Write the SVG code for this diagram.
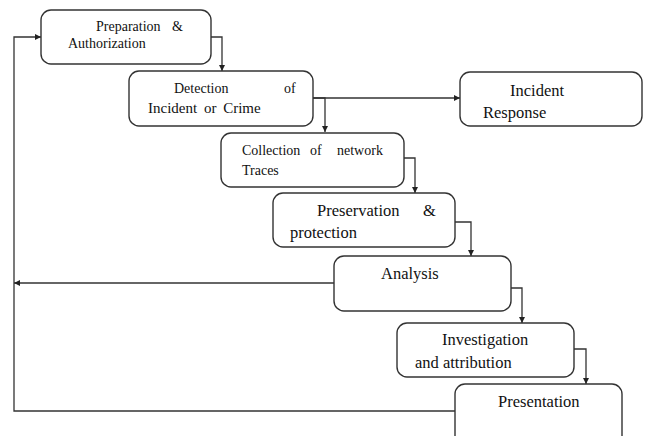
<svg xmlns="http://www.w3.org/2000/svg" width="649" height="436" viewBox="0 0 649 436">
<defs>
<marker id="ah" viewBox="0 0 10 10" refX="10" refY="5" markerWidth="6" markerHeight="6" orient="auto" markerUnits="userSpaceOnUse"><path d="M0,0 L10,5 L0,10 z" fill="#222"/></marker>
<style>
.box{fill:#fff;stroke:#333;stroke-width:1.4}
.c{fill:none;stroke:#333;stroke-width:1.3}
text{font-family:'Liberation Serif','DejaVu Serif',serif;fill:#111}
.s{font-size:14px}
.m{font-size:16.5px}
</style>
</defs>
<rect width="649" height="436" fill="#fff"/>
<g id="connectors">
<path class="c" d="M211,37 H222 V71" marker-end="url(#ah)"/>
<path class="c" d="M313,98 H460" marker-end="url(#ah)"/>
<path class="c" d="M313,98 H325 V132" marker-end="url(#ah)"/>
<path class="c" d="M404,158 H415 V193" marker-end="url(#ah)"/>
<path class="c" d="M455,222 H471 V256" marker-end="url(#ah)"/>
<path class="c" d="M511,288 H522 V323" marker-end="url(#ah)"/>
<path class="c" d="M574,349 H586 V384" marker-end="url(#ah)"/>
<path class="c" d="M334,283 H14" marker-end="url(#ah)"/>
<path class="c" d="M455,411 H14 V37 H41" marker-end="url(#ah)"/>
</g>
<g id="n1"><rect class="box" x="41" y="10" width="170" height="54" rx="10"/>
<text class="s" x="96" y="31">Preparation</text><text class="s" x="172" y="31">&amp;</text>
<text class="s" x="68" y="48">Authorization</text></g>
<g id="n2"><rect class="box" x="129" y="71" width="184" height="55" rx="10"/>
<text class="s" x="174" y="93">Detection</text><text class="s" x="284" y="93">of</text>
<text x="148" y="113" font-size="15" word-spacing="3">Incident or Crime</text></g>
<g id="n3"><rect class="box" x="460" y="72" width="182" height="54" rx="10"/>
<text class="m" x="510" y="96">Incident</text>
<text class="m" x="483" y="118">Response</text></g>
<g id="n4"><rect class="box" x="221" y="133" width="183" height="54" rx="10"/>
<text class="s" x="242" y="155">Collection</text><text class="s" x="310" y="155">of</text><text class="s" x="337" y="155">network</text>
<text class="s" x="242" y="175">Traces</text></g>
<g id="n5"><rect class="box" x="273" y="193" width="182" height="54" rx="10"/>
<text class="m" x="317" y="216">Preservation</text><text class="m" x="423" y="216">&amp;</text>
<text class="m" x="290" y="238">protection</text></g>
<g id="n6"><rect class="box" x="334" y="256" width="177" height="55" rx="10"/>
<text class="m" x="381" y="279">Analysis</text></g>
<g id="n7"><rect class="box" x="397" y="323" width="177" height="54" rx="10"/>
<text class="m" x="442" y="345">Investigation</text>
<text class="m" x="415" y="368">and attribution</text></g>
<g id="n8"><rect class="box" x="455" y="384" width="167" height="62" rx="10"/>
<text class="m" x="498" y="407">Presentation</text></g>
</svg>
